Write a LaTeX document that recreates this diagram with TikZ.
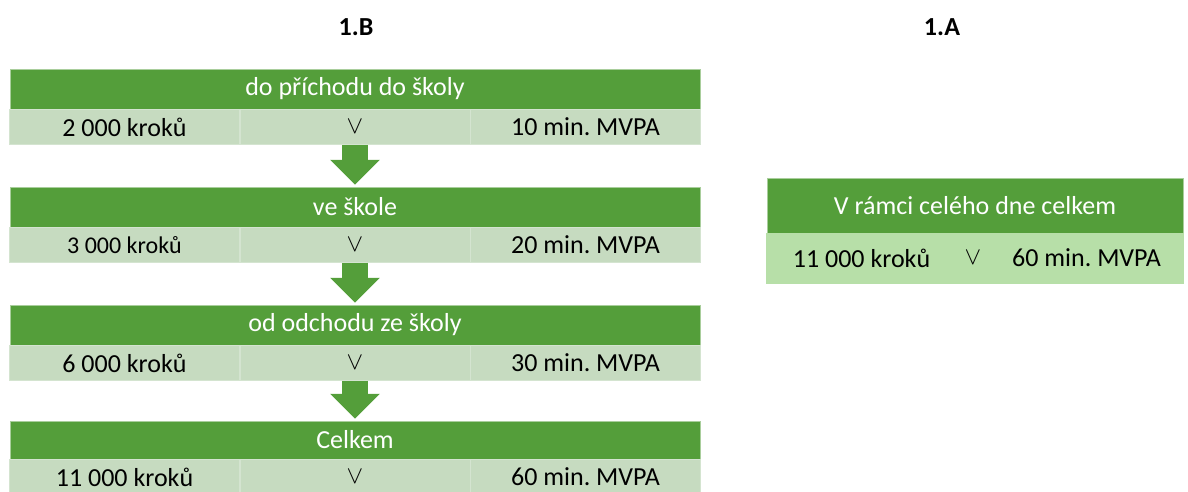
\documentclass[tikz,border=0pt]{standalone}
\usepackage{fontspec}
\setmainfont{Carlito}
\usepackage{xcolor}
\usepackage{tikz}
\usetikzlibrary{arrows.meta, positioning}

\definecolor{hdrgreen}{RGB}{84,158,58}
\definecolor{rowgray}{RGB}{198,219,192}
\definecolor{rowlight}{RGB}{183,223,168}
\newcommand{\boxfont}{\fontsize{26}{30}\selectfont}
\frenchspacing

\begin{document}
\begin{tikzpicture}[x=1pt, y=-1pt,
    hdr/.style={rectangle, fill=hdrgreen, draw=white!50!hdrgreen, line width=0.5pt, text=white, minimum width=690pt, minimum height=40pt, inner sep=0pt, font=\boxfont},
    cell/.style={rectangle, fill=rowgray, draw=white!25!rowgray, line width=0.5pt, minimum width=230pt, minimum height=35pt, inner sep=0pt, font=\boxfont},
    flow/.style={draw=hdrgreen, line width=26pt, -{Triangle[width=48pt, length=25pt]}, shorten >=2pt},
    title/.style={font=\boxfont\bfseries}
]
    \useasboundingbox (0,0) rectangle (1188,492);

    % LEFT: 1.B
    \node (titleB) [title] at (356,27) {1.B};

    \node (hdr1) [hdr] at (355,89) {do příchodu do školy};
    \node (mid1) [cell, below=0pt of hdr1] {$\vee$};
    \node (steps1) [cell, left=0pt of mid1] {2 000 kroků};
    \node (mvpa1) [cell, right=0pt of mid1] {10 min. MVPA};

    \node (hdr2) [hdr] at (355,207) {ve škole};
    \node (mid2) [cell, below=0pt of hdr2] {$\vee$};
    \node (steps2) [cell, left=0pt of mid2, font=\fontsize{24}{28}\selectfont] {3 000 kroků};
    \node (mvpa2) [cell, right=0pt of mid2] {20 min. MVPA};

    \node (hdr3) [hdr] at (355,325) {od odchodu ze školy};
    \node (mid3) [cell, below=0pt of hdr3] {$\vee$};
    \node (steps3) [cell, left=0pt of mid3] {6 000 kroků};
    \node (mvpa3) [cell, right=0pt of mid3] {30 min. MVPA};

    \node (hdr4) [hdr, minimum height=38pt] at (355,440) {Celkem};
    \node (mid4) [cell, below=0pt of hdr4] {$\vee$};
    \node (steps4) [cell, left=0pt of mid4] {11 000 kroků};
    \node (mvpa4) [cell, right=0pt of mid4] {60 min. MVPA};

    \draw[flow] (mid1.south) -- (hdr2.north);
    \draw[flow] (mid2.south) -- (hdr3.north);
    \draw[flow] (mid3.south) -- (hdr4.north);

    % RIGHT: 1.A
    \node (titleA) [title] at (942,27) {1.A};

    \node (allH) [hdr, minimum width=416pt, minimum height=55pt] at (975,205.5) {V rámci celého dne celkem};
    \node (allM) [cell, fill=rowlight, draw=rowlight, minimum width=32pt, minimum height=50pt] at (973,258) {$\vee$};
    \node (allS) [cell, fill=rowlight, draw=rowlight, minimum width=190pt, minimum height=50pt, left=0pt of allM] {11 000 kroků};
    \node (allV) [cell, fill=rowlight, draw=rowlight, minimum width=194pt, minimum height=50pt, right=0pt of allM] {60 min. MVPA};
\end{tikzpicture}
\end{document}
